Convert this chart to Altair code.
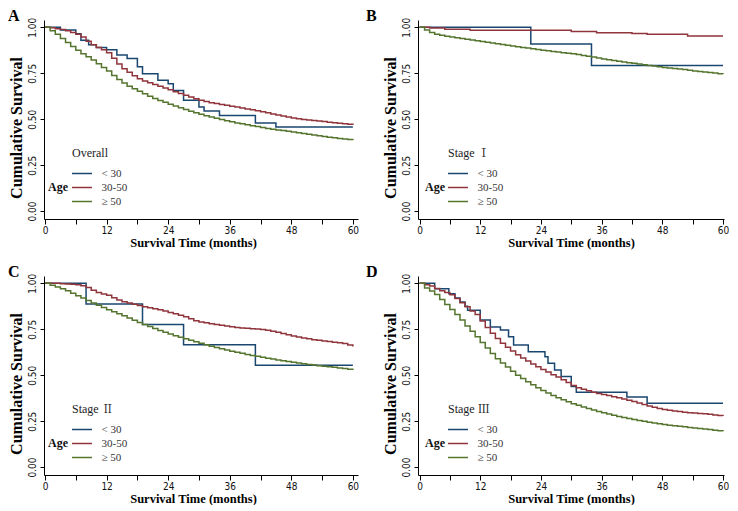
import altair as alt
import pandas as pd

# ---------------- data ----------------
groups = ["< 30", "30-50", "\u2265 50"]
colors = ["#1a476f", "#90353b", "#55752f"]
months = list(range(61))
side_label = "Age"
panel_letters = ["A", "B", "C", "D"]
panel_titles = ["Overall", "Stage \u2160", "Stage \u2161", "Stage \u2162"]
x_title = "Survival Time (months)"
y_title = "Cumulative Survival"
x_ticks = [0, 6, 12, 18, 24, 30, 36, 42, 48, 54, 60]
y_ticks = [0.0, 0.25, 0.5, 0.75, 1.0]

# Panel A (Overall)
a_young_t = [0, 3, 6, 7, 8.5, 10, 12, 14, 16, 18, 19, 22, 24, 25, 27, 30, 31, 34, 41, 45, 60]
a_young_s = [1.0, 0.985, 0.965, 0.93, 0.905, 0.89, 0.878, 0.85, 0.83, 0.785, 0.748, 0.712, 0.693,
             0.657, 0.603, 0.567, 0.545, 0.52, 0.48, 0.458, 0.458]
a_mid_s = [1.0, 0.998, 0.993, 0.988, 0.982, 0.972, 0.962, 0.948, 0.925, 0.905,
           0.89, 0.878, 0.862, 0.832, 0.80, 0.775, 0.755, 0.737, 0.72, 0.708,
           0.698, 0.689, 0.68, 0.67, 0.66, 0.65, 0.64, 0.63, 0.621, 0.612,
           0.603, 0.596, 0.59, 0.585, 0.58, 0.576, 0.571, 0.566, 0.561, 0.556,
           0.551, 0.546, 0.541, 0.535, 0.529, 0.523, 0.517, 0.512, 0.507, 0.503,
           0.499, 0.496, 0.493, 0.49, 0.487, 0.484, 0.481, 0.478, 0.475, 0.472, 0.468]
a_old_s = [1.0, 0.982, 0.962, 0.94, 0.918, 0.896, 0.876, 0.857, 0.84, 0.822,
           0.802, 0.782, 0.762, 0.738, 0.716, 0.697, 0.68, 0.666, 0.652, 0.638,
           0.625, 0.613, 0.602, 0.592, 0.582, 0.572, 0.562, 0.553, 0.544, 0.535,
           0.527, 0.519, 0.512, 0.505, 0.498, 0.492, 0.486, 0.48, 0.475, 0.47,
           0.465, 0.46, 0.455, 0.45, 0.446, 0.442, 0.438, 0.434, 0.43, 0.426,
           0.422, 0.418, 0.414, 0.41, 0.406, 0.402, 0.399, 0.395, 0.392, 0.389, 0.386]

# Panel B (Stage I)
b_young_t = [0, 22, 34, 60]
b_young_s = [1.0, 0.91, 0.792, 0.792]
b_mid_t = [0, 2, 5, 10, 30, 35, 42, 45, 53, 60]
b_mid_s = [1.0, 0.997, 0.99, 0.984, 0.978, 0.971, 0.966, 0.962, 0.953, 0.953]
b_old_s = [1.0, 0.985, 0.972, 0.963, 0.957, 0.952, 0.947, 0.943, 0.939, 0.935,
           0.931, 0.927, 0.923, 0.919, 0.915, 0.911, 0.907, 0.903, 0.899, 0.895,
           0.891, 0.887, 0.883, 0.879, 0.876, 0.872, 0.869, 0.866, 0.862, 0.859,
           0.856, 0.852, 0.847, 0.843, 0.838, 0.833, 0.828, 0.824, 0.82, 0.816,
           0.812, 0.808, 0.804, 0.80, 0.797, 0.793, 0.789, 0.786, 0.782, 0.779,
           0.776, 0.773, 0.77, 0.766, 0.763, 0.76, 0.757, 0.754, 0.751, 0.748, 0.746]

# Panel C (Stage II)
c_young_t = [0, 8, 19, 27, 41, 60]
c_young_s = [1.0, 0.888, 0.776, 0.666, 0.554, 0.554]
c_mid_s = [1.0, 1.0, 1.0, 0.998, 0.997, 0.995, 0.992, 0.987, 0.978, 0.962,
           0.95, 0.942, 0.935, 0.922, 0.91, 0.90, 0.893, 0.886, 0.879, 0.873,
           0.867, 0.862, 0.856, 0.849, 0.842, 0.835, 0.826, 0.818, 0.808, 0.797,
           0.789, 0.785, 0.78, 0.776, 0.772, 0.768, 0.764, 0.76, 0.757, 0.755,
           0.753, 0.751, 0.749, 0.745, 0.74, 0.734, 0.727, 0.72, 0.713, 0.708,
           0.703, 0.698, 0.693, 0.69, 0.686, 0.683, 0.68, 0.677, 0.672, 0.665, 0.657]
c_old_s = [1.0, 0.99, 0.98, 0.97, 0.96, 0.946, 0.933, 0.92, 0.906, 0.893,
           0.881, 0.869, 0.857, 0.846, 0.835, 0.823, 0.811, 0.799, 0.787, 0.776,
           0.765, 0.754, 0.744, 0.734, 0.724, 0.715, 0.706, 0.698, 0.69, 0.682,
           0.674, 0.666, 0.658, 0.651, 0.644, 0.637, 0.631, 0.625, 0.619, 0.613,
           0.608, 0.603, 0.598, 0.593, 0.588, 0.583, 0.579, 0.575, 0.571, 0.567,
           0.563, 0.559, 0.556, 0.552, 0.549, 0.546, 0.543, 0.539, 0.536, 0.532, 0.528]

# Panel D (Stage III)
d_young_t = [0, 3, 5.8, 7, 8, 9, 9.5, 12, 14, 16, 17.6, 18.6, 21.5, 24.8, 25.4, 26.7, 28, 30, 31, 41, 45, 60]
d_young_s = [1.0, 0.97, 0.944, 0.92, 0.899, 0.875, 0.853, 0.80, 0.763, 0.746, 0.71, 0.665,
             0.628, 0.601, 0.565, 0.529, 0.493, 0.439, 0.408, 0.381, 0.348, 0.348]
d_mid_s = [1.0, 0.993, 0.985, 0.972, 0.96, 0.95, 0.938, 0.918, 0.895, 0.872,
           0.85, 0.83, 0.795, 0.76, 0.728, 0.70, 0.674, 0.652, 0.632, 0.612,
           0.594, 0.577, 0.561, 0.546, 0.531, 0.517, 0.503, 0.49, 0.476, 0.46,
           0.444, 0.432, 0.423, 0.415, 0.408, 0.401, 0.395, 0.389, 0.383, 0.377,
           0.371, 0.364, 0.357, 0.349, 0.341, 0.333, 0.326, 0.319, 0.313, 0.309,
           0.305, 0.302, 0.299, 0.296, 0.294, 0.292, 0.29, 0.287, 0.284, 0.281, 0.278]
d_old_s = [1.0, 0.975, 0.958, 0.94, 0.912, 0.885, 0.858, 0.83, 0.80, 0.768,
           0.74, 0.71, 0.678, 0.648, 0.618, 0.59, 0.567, 0.545, 0.522, 0.50,
           0.482, 0.465, 0.448, 0.432, 0.417, 0.403, 0.39, 0.378, 0.367, 0.356,
           0.345, 0.336, 0.327, 0.319, 0.311, 0.303, 0.296, 0.289, 0.282, 0.276,
           0.27, 0.264, 0.259, 0.254, 0.249, 0.244, 0.24, 0.236, 0.232, 0.228,
           0.225, 0.222, 0.219, 0.216, 0.213, 0.21, 0.207, 0.204, 0.201, 0.198, 0.195]

panels = [
    [(a_young_t, a_young_s), (months, a_mid_s), (months, a_old_s)],
    [(b_young_t, b_young_s), (b_mid_t, b_mid_s), (months, b_old_s)],
    [(c_young_t, c_young_s), (months, c_mid_s), (months, c_old_s)],
    [(d_young_t, d_young_s), (months, d_mid_s), (months, d_old_s)],
]

# ---------------- styling ----------------
SERIF = "Liberation Serif, Times New Roman, serif"
NARROW = "Liberation Sans Narrow, Arial Narrow, DejaVu Sans Condensed, Liberation Sans, sans-serif"
TITLE_SERIF = "Liberation Serif, Noto Serif CJK SC, Noto Sans CJK SC, serif"
H = 199
widths = [314, 306, 314, 306]
x_domains = [[-0.2, 61], [-0.3, 60.2], [-0.2, 61], [-0.3, 60.2]]
x_title_shift = [-8, 0, -8, 0]
legend_x = [28, 30, 28, 30]
age_x = [4, 7, 4, 7]
letter_dx = [-36, -52, -36, -52]


def make_panel(i):
    rows = []
    for g, (ts, ss) in zip(groups, panels[i]):
        for t, s in zip(ts, ss):
            rows.append({"t": t, "s": s, "Age": g})
    df = pd.DataFrame(rows)

    lines = alt.Chart(df).mark_line(interpolate="step-after", strokeWidth=1.5).encode(
        x=alt.X("t:Q",
                scale=alt.Scale(domain=x_domains[i], nice=False, zero=False),
                axis=alt.Axis(values=x_ticks,
                              labelExpr="datum.value % 12 == 0 ? datum.label : ''",
                              title=x_title, labelFlush=False, labelOverlap=False,
                              tickSize=5, labelPadding=1, titlePadding=1,
                              titleX=widths[i] / 2 + x_title_shift[i])),
        y=alt.Y("s:Q",
                scale=alt.Scale(domain=[-0.043, 1.04], nice=False, zero=False),
                axis=alt.Axis(values=y_ticks, format=".2f", labelAngle=270,
                              labelAlign="center", labelBaseline="bottom",
                              title=y_title, labelFlush=False, labelOverlap=False,
                              tickSize=4, labelPadding=3, titlePadding=3,
                              titleFontSize=16, titleY=H / 2 + 8)),
        color=alt.Color("Age:N",
                        scale=alt.Scale(domain=groups, range=colors),
                        legend=alt.Legend(title=panel_titles[i], orient="none",
                                          legendX=legend_x[i], legendY=128,
                                          symbolType="M-3.333,0H3.333", symbolSize=36,
                                          symbolOffset=4.5, symbolStrokeWidth=1.5,
                                          labelOffset=14, padding=0, rowPadding=2,
                                          titlePadding=8)),
        order=alt.Order("t:Q"),
    )

    age = alt.Chart(pd.DataFrame({"lab": [side_label]})).mark_text(
        font=SERIF, fontWeight="bold", fontSize=12, align="left", baseline="middle",
        color="#111"
    ).encode(x=alt.value(age_x[i]), y=alt.value(167), text="lab:N")

    return alt.layer(lines, age).properties(
        width=widths[i], height=H,
        title=alt.TitleParams(panel_letters[i], anchor="start", frame="group",
                              dx=letter_dx[i], offset=-7,
                              fontSize=16, font=SERIF, fontWeight="bold",
                              color="#000"))


chart = alt.concat(
    *[make_panel(i) for i in range(4)],
    columns=2,
    spacing=alt.RowColnumber(row=57, column=60),
    bounds="flush",
).resolve_scale(color="independent").properties(
    padding=0, background="white"
).configure_view(stroke=None).configure_axis(
    grid=False, domainColor="#000", tickColor="#000", domainWidth=1, tickWidth=1,
    labelFont=NARROW, labelFontSize=10, labelColor="#111",
    titleFont=SERIF, titleFontWeight="bold", titleFontSize=12.5, titleColor="#000",
).configure_legend(
    titleFont=TITLE_SERIF, titleFontSize=12, titleFontWeight="normal", titleColor="#222",
    labelFont=SERIF, labelFontSize=11, labelColor="#333",
)

chart.save("out.html", embed_options={"renderer": "svg", "actions": False})
